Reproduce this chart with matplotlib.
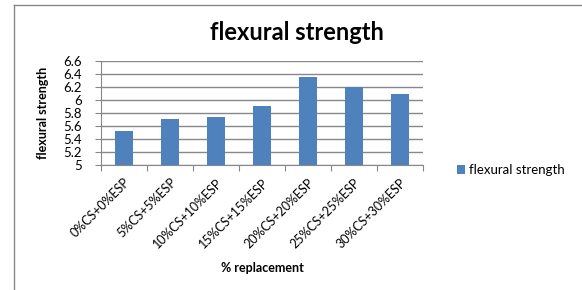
import matplotlib.pyplot as plt
import numpy as np
from matplotlib.lines import Line2D

mixes = ['0%CS+0%ESP', '5%CS+5%ESP', '10%CS+10%ESP', '15%CS+15%ESP',
         '20%CS+20%ESP', '25%CS+25%ESP', '30%CS+30%ESP']
strength = [5.53, 5.71, 5.74, 5.91, 6.36, 6.20, 6.10]
yticks = [5, 5.2, 5.4, 5.6, 5.8, 6, 6.2, 6.4, 6.6]

plt.rcParams['font.family'] = ['Lato', 'DejaVu Sans']

W, H = 582, 290
fig = plt.figure(figsize=(W / 100, H / 100), dpi=100)

# chart border (only top and left edges fall inside the picture)
fig.lines.append(Line2D([14 / W, 14 / W], [0, 1 - 5 / H], transform=fig.transFigure,
                        color='#888888', linewidth=1))
fig.lines.append(Line2D([14 / W, 1], [1 - 5 / H, 1 - 5 / H], transform=fig.transFigure,
                        color='#888888', linewidth=1))

ax = fig.add_axes([101 / W, 1 - 165 / H, 322 / W, 104 / H])
x = np.arange(len(mixes))
ax.bar(x, strength, width=0.39, color='#4F81BD', label='flexural strength', zorder=3)

ax.set_xlim(-0.5, len(mixes) - 0.5)
ax.set_ylim(5, 6.6)
ax.set_yticks(yticks)
ax.set_yticklabels([f'{v:g}' for v in yticks], fontsize=9.5)
ax.yaxis.grid(True, color='#888888', linewidth=1, zorder=0)

ax.set_xticks(np.arange(len(mixes) + 1) - 0.5)
ax.set_xticklabels([])
ax.set_xticks(x, minor=True)
ax.set_xticklabels(mixes, minor=True, rotation=45, ha='right', rotation_mode='anchor',
                   fontsize=9)
ax.tick_params(axis='x', which='minor', length=0, pad=8)
ax.tick_params(axis='x', which='major', length=4, color='#888888')
ax.tick_params(axis='y', length=4, color='#888888', pad=10)

for side in ['top', 'right']:
    ax.spines[side].set_visible(False)
ax.spines['left'].set_color('#888888')
ax.spines['bottom'].set_color('#888888')

ax.set_ylabel('flexural strength', fontsize=9, fontweight='bold', labelpad=10)
fig.text(262 / W, 1 - 268 / H, '% replacement', ha='center', va='center',
         fontsize=9, fontweight='bold')
fig.text(297 / W, 1 - 32 / H, 'flexural strength', ha='center', va='center',
         fontsize=17, fontweight='bold')

ax.legend(loc='center left', bbox_to_anchor=(1.07, -0.05), frameon=False, fontsize=9.5,
          handlelength=0.6, handleheight=0.6, handletextpad=0.3)

fig.savefig('out.png', dpi=100)
